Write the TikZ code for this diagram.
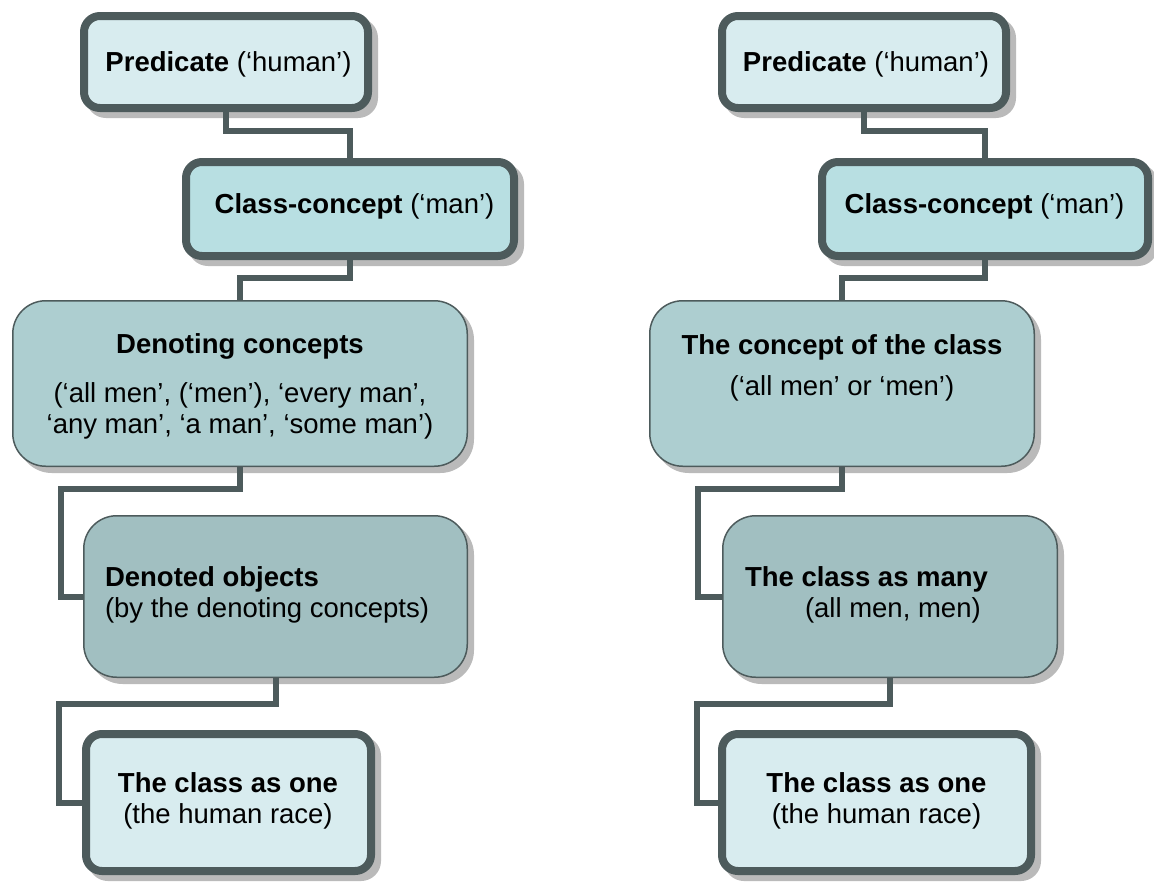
\documentclass[tikz,border=0pt]{standalone}
\usepackage{fontspec}
\setmainfont{Liberation Sans}
\usetikzlibrary{calc,backgrounds}
\definecolor{bordc}{HTML}{4D5B5C}
\definecolor{fillA}{HTML}{D8ECEF}
\definecolor{fillB}{HTML}{B8DFE2}
\definecolor{fillC}{HTML}{ADCED0}
\definecolor{fillD}{HTML}{A1BFC1}
\definecolor{shadc}{HTML}{BABABA}
\pgfdeclarelayer{shad}
\pgfdeclarelayer{lines}
\pgfsetlayers{shad,lines,main}
\tikzset{
  box/.style={rectangle, draw=bordc, inner sep=0pt, outer sep=0pt, anchor=center},
  thickbox/.style={box, line width=8pt, rounded corners=16pt},
  thinbox/.style={box, line width=1.5pt, rounded corners=33pt},
  thickshad/.style={draw=shadc, fill=shadc, line width=8pt, rounded corners=16pt},
  thinshad/.style={draw=shadc, fill=shadc, line width=1.5pt, rounded corners=33pt},
  conn/.style={draw=bordc, line width=6pt},
  txt/.style={inner sep=0pt, outer sep=0pt, text=black, font=\fontsize{27.5}{31}\selectfont},
}
\begin{document}
\begin{tikzpicture}[x=1pt, y=-1pt]
\useasboundingbox (0,0) rectangle (1154,881);

% ---------- left column boxes ----------
\node[thickbox, fill=fillA, minimum width=284pt, minimum height=92pt] (L1) at (226,62) {};
\node[thickbox, fill=fillB, minimum width=328pt, minimum height=94pt] (L2) at (350,209) {};
\node[thinbox, fill=fillC, minimum width=454.5pt, minimum height=165.5pt] (L3) at (240,383.5) {};
\node[thinbox, fill=fillD, minimum width=383.5pt, minimum height=161.5pt] (L4) at (275.5,596.5) {};
\node[thickbox, fill=fillA, minimum width=285pt, minimum height=137pt] (L5) at (228.5,802.5) {};

% ---------- right column boxes ----------
\node[thickbox, fill=fillA, minimum width=284pt, minimum height=92pt] (R1) at (864,62) {};
\node[thickbox, fill=fillB, minimum width=326pt, minimum height=94pt] (R2) at (985,209) {};
\node[thinbox, fill=fillC, minimum width=384.5pt, minimum height=165.5pt] (R3) at (842,383.5) {};
\node[thinbox, fill=fillD, minimum width=334.5pt, minimum height=161.5pt] (R4) at (890,596.5) {};
\node[thickbox, fill=fillA, minimum width=309pt, minimum height=137pt] (R5) at (876.5,802.5) {};

% ---------- texts ----------
\node[txt, anchor=base] (L1t) at (228.5,71) {\textbf{Predicate} (‘human’)};
\node[txt, anchor=base] (R1t) at (866,71) {\textbf{Predicate} (‘human’)};
\node[txt, anchor=base] (L2t) at (354.5,213) {\textbf{Class-concept} (‘man’)};
\node[txt, anchor=base] (R2t) at (984.5,213) {\textbf{Class-concept} (‘man’)};
\node[txt, anchor=north, align=center] (L3t) at (240,333.3)
  {\textbf{Denoting concepts}\\[18pt](‘all men’, (‘men’), ‘every man’,\\‘any man’, ‘a man’, ‘some man’)};
\node[txt, anchor=north, align=center] (R3t) at (842,334.3)
  {\textbf{The concept of the class}\\[10pt](‘all men’ or ‘men’)};
\node[txt, anchor=north west, align=left] (L4t) at (105,566.3)
  {\textbf{Denoted objects}\\(by the denoting concepts)};
\node[txt, anchor=north west, align=left] (R4t) at (745,566.3)
  {\textbf{The class as many}\\\hspace*{60pt}(all men, men)};
\node[txt, anchor=north, align=center] (L5t) at (228,772.1)
  {\textbf{The class as one}\\(the human race)};
\node[txt, anchor=north, align=center] (R5t) at (876.5,772.1)
  {\textbf{The class as one}\\(the human race)};

% ---------- connectors ----------
\begin{pgfonlayer}{lines}
\draw[conn] (L1.south) -- ++(0,23) -| (L2.north);
\draw[conn] (L2.south) -- ++(0,22) -| (L3.north);
\draw[conn] (L3.south) -- ++(0,23) -| ([xshift=-23pt]L4.west) -- (L4.west);
\draw[conn] (L4.south) -- ++(0,27) -| ([xshift=-27pt]L5.west) -- (L5.west);
\draw[conn] (R1.south) -- ++(0,23) -| (R2.north);
\draw[conn] (R2.south) -- ++(0,22) -| (R3.north);
\draw[conn] (R3.south) -- ++(0,23) -| ([xshift=-25pt]R4.west) -- (R4.west);
\draw[conn] (R4.south) -- ++(0,27) -| ([xshift=-25pt]R5.west) -- (R5.west);
\end{pgfonlayer}

% ---------- shadows ----------
\begin{pgfonlayer}{shad}
\foreach \n in {L1,L2,L5,R1,R2,R5}{
  \path[thickshad] ([shift={(6pt,-6pt)}]\n.south west) rectangle ([shift={(6pt,-6pt)}]\n.north east);
}
\foreach \n in {L3,L4,R3,R4}{
  \path[thinshad] ([shift={(6pt,-6pt)}]\n.south west) rectangle ([shift={(6pt,-6pt)}]\n.north east);
}
\end{pgfonlayer}
\end{tikzpicture}
\end{document}
